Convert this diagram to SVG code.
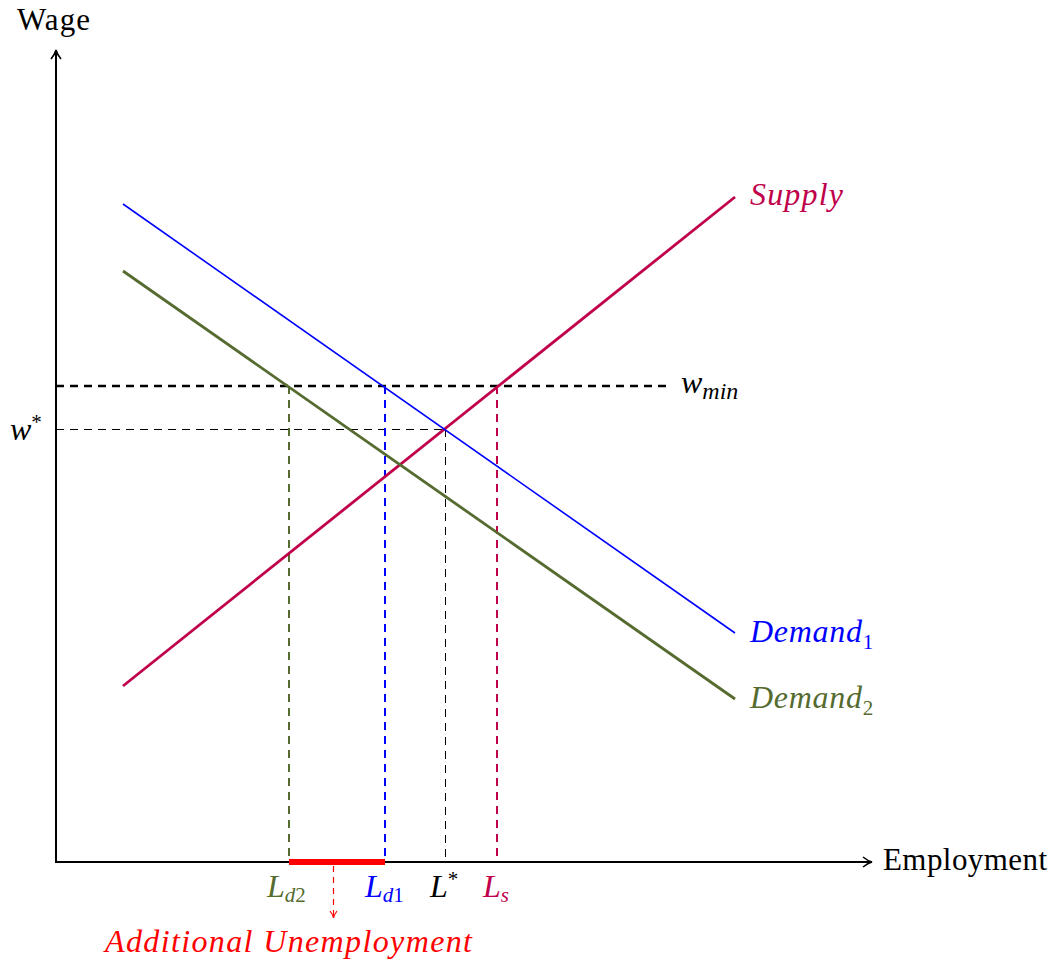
<svg xmlns="http://www.w3.org/2000/svg" width="1053" height="962" viewBox="0 0 1053 962">
<defs>
<marker id="ah" viewBox="0 0 12 12" refX="10" refY="6" markerWidth="12" markerHeight="12" markerUnits="userSpaceOnUse" orient="auto">
<path d="M1,1 Q6,5 10,6 Q6,7 1,11" fill="none" stroke="#000" stroke-width="1.6"/>
</marker>
<marker id="ahr" viewBox="0 0 10 10" refX="9" refY="5" markerWidth="10" markerHeight="10" markerUnits="userSpaceOnUse" orient="auto">
<path d="M2,1.5 Q5.5,4.3 9,5 Q5.5,5.7 2,8.5" fill="none" stroke="#ff0000" stroke-width="1.2"/>
</marker>
<style>
.t{font-family:"Liberation Serif",serif;font-size:31px}
.m{font-family:"Liberation Serif",serif;font-style:italic;font-size:32px}
.sub{font-size:21px}
.ax{stroke:#000;stroke-width:2;fill:none}
</style>
</defs>
<g id="connectors">
<line class="ax" x1="56" y1="863" x2="56" y2="50" marker-end="url(#ah)"/>
<line class="ax" x1="55" y1="862" x2="872" y2="862" marker-end="url(#ah)"/>
<line x1="56" y1="386" x2="670" y2="386" stroke="#000" stroke-width="2.5" stroke-dasharray="8,6"/>
<line x1="56" y1="429.5" x2="445" y2="429.5" stroke="#000" stroke-width="1" stroke-dasharray="8,6"/>
<line x1="289" y1="386" x2="289" y2="862" stroke="#556b2f" stroke-width="2" stroke-dasharray="8,6"/>
<line x1="385" y1="386" x2="385" y2="862" stroke="#0000ff" stroke-width="2" stroke-dasharray="8,6"/>
<line x1="445.5" y1="429" x2="445.5" y2="862" stroke="#000" stroke-width="1" stroke-dasharray="8,6"/>
<line x1="497" y1="386" x2="497" y2="862" stroke="#c0004a" stroke-width="2" stroke-dasharray="8,6"/>
<line x1="333.5" y1="866" x2="333.5" y2="918" stroke="#ff0000" stroke-width="1.2" stroke-dasharray="6,5" marker-end="url(#ahr)"/>
</g>
<g id="supply"><line x1="123" y1="686" x2="735" y2="197" stroke="#c0004a" stroke-width="2.8"/></g>
<g id="demand1"><line x1="123" y1="204" x2="735" y2="633" stroke="#0000ff" stroke-width="1.6"/></g>
<g id="demand2"><line x1="123" y1="271" x2="735" y2="699" stroke="#556b2f" stroke-width="2.8"/></g>
<g id="unemployment-bar"><line x1="289" y1="862" x2="385" y2="862" stroke="#ff0000" stroke-width="6"/></g>
<g id="labels">
<text class="t" x="17" y="30" textLength="73">Wage</text>
<text class="t" x="883" y="870" textLength="164">Employment</text>
<text class="m" x="750" y="205" fill="#c0004a" textLength="93">Supply</text>
<text class="m" x="750" y="642" fill="#0000ff"><tspan textLength="112">Demand</tspan><tspan class="sub" dy="7" font-style="normal">1</tspan></text>
<text class="m" x="750" y="708" fill="#556b2f"><tspan textLength="112">Demand</tspan><tspan class="sub" dy="7" font-style="normal">2</tspan></text>
<text class="m" x="681" y="393" fill="#000">w<tspan dy="6" font-size="24">min</tspan></text>
<text class="m" x="10" y="440" fill="#000">w<tspan class="sub" dy="-11" font-style="normal">*</tspan></text>
<text class="m" x="267" y="897" fill="#556b2f">L<tspan class="sub" dy="5">d</tspan><tspan class="sub" font-style="normal">2</tspan></text>
<text class="m" x="365" y="897" fill="#0000ff">L<tspan class="sub" dy="5">d</tspan><tspan class="sub" font-style="normal">1</tspan></text>
<text class="m" x="430" y="897" fill="#000">L<tspan class="sub" dy="-11" font-style="normal">*</tspan></text>
<text class="m" x="483" y="897" fill="#c0004a">L<tspan class="sub" dy="5">s</tspan></text>
<text class="m" x="105" y="952" fill="#ff0000" textLength="367">Additional Unemployment</text>
</g>
</svg>
